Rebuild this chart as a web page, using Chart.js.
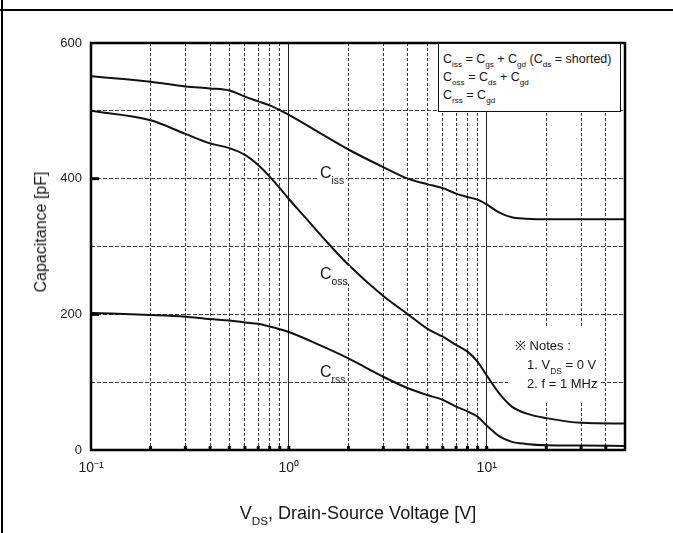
<!DOCTYPE html>
<html>
<head>
<meta charset="utf-8">
<script src="https://cdn.jsdelivr.net/npm/chart.js@4.4.1/dist/chart.umd.min.js"></script>
<style>
html,body{margin:0;padding:0;background:#fff;}
#wrap{position:relative;width:673px;height:533px;overflow:hidden;background:#fff;
  font-family:"Liberation Sans",Arial,Helvetica,sans-serif;color:#161616;}
#c{position:absolute;left:0;top:0;}
.t{position:absolute;white-space:nowrap;line-height:1;}
.t sub{font-size:0.65em;position:relative;top:0.55em;vertical-align:baseline;line-height:0;}
#frameTop{position:absolute;left:0;top:9px;width:673px;height:2px;background:#000;}
#frameLeft{position:absolute;left:1px;top:0;width:2px;height:533px;background:#000;}
#xtitle{left:358px;top:504px;font-size:18px;transform:translateX(-50%);}
#ytitle{left:41px;top:232px;font-size:16px;transform:translate(-50%,-50%) rotate(-90deg);}
#formula{position:absolute;left:438px;top:43px;width:183px;height:69px;background:#fff;
  border:1.5px solid #111;box-sizing:border-box;}
#formula .t{font-size:12.5px;left:4px;}
.lbl{font-size:16px;background:#fff;padding:0 2px 2px 1px;}
.note{font-size:13px;}
</style>
</head>
<body>
<div id="wrap">
  <canvas id="c" width="673" height="533"></canvas>
  <div id="frameTop"></div>
  <div id="frameLeft"></div>
  <div id="formula">
    <div class="t" style="top:9px">C<sub>iss</sub> = C<sub>gs</sub> + C<sub>gd</sub> (C<sub>ds</sub> = shorted)</div>
    <div class="t" style="top:27px">C<sub>oss</sub> = C<sub>ds</sub> + C<sub>gd</sub></div>
    <div class="t" style="top:45px">C<sub>rss</sub> = C<sub>gd</sub></div>
  </div>
  <div class="t lbl" style="left:319px;top:165px">C<sub>iss</sub></div>
  <div class="t lbl" style="left:319px;top:266px">C<sub>oss</sub></div>
  <div class="t lbl" style="left:319px;top:364px">C<sub>rss</sub></div>
  <div class="t note" style="left:515px;top:339px">※ Notes :</div>
  <div class="t note" style="left:527px;top:358px">1. V<sub>DS</sub> = 0 V</div>
  <div class="t note" style="left:527px;top:377px">2. f = 1 MHz</div>
  <div class="t" id="xtitle">V<sub>DS</sub>, Drain-Source Voltage [V]</div>
  <div class="t" id="ytitle">Capacitance [pF]</div>
</div>
<script>
// ---- data ----
const vdsCiss = [0.1, 0.2, 0.3, 0.4, 0.5, 0.6, 0.7, 0.8, 0.9, 1, 2, 3, 4, 5, 6, 7, 8, 9, 10, 11.6, 13.4, 15.8, 20, 30, 50];
const ciss    = [551, 543, 536, 533, 530, 521, 514, 508, 501, 494, 443, 417, 400, 392, 386, 378, 373, 369, 362, 350, 343, 341, 340, 340, 340];

const vdsCoss = [0.1, 0.2, 0.3, 0.4, 0.5, 0.6, 0.7, 0.8, 0.9, 1, 1.2, 1.5, 2, 3, 4, 5, 6, 7, 8, 9, 10, 11.6, 13.4, 15.8, 20, 30, 50];
const coss    = [500, 486, 466, 452, 445, 435, 420, 403, 386, 370, 344, 312, 273, 227, 200, 179, 167, 155, 145, 130, 110, 83, 64, 54, 47, 40, 39];

const vdsCrss = [0.1, 0.2, 0.3, 0.4, 0.5, 0.6, 0.7, 0.8, 0.9, 1, 1.5, 2, 3, 4, 5, 6, 7, 8, 9, 10, 11.6, 13.4, 15.8, 20, 30, 50];
const crss    = [202, 199, 196.5, 193, 191, 188, 186, 182, 178, 174, 152, 135, 108, 91, 81, 74, 64, 57, 49, 36, 20, 12, 9, 7, 6.5, 6];

const xTickValues  = [0.1, 0.2, 0.3, 0.4, 0.5, 0.6, 0.7, 0.8, 0.9, 1, 2, 3, 4, 5, 6, 7, 8, 9, 10, 20, 30, 40, 50];
const xMajorTicks  = [0.1, 1, 10];
const xTickLabels  = ['10\u207B\u00B9', '10\u2070', '10\u00B9'];
const yTickValues  = [0, 100, 200, 300, 400, 500, 600];
const yLabelTicks  = [0, 200, 400, 600];
const seriesNames  = ['Ciss', 'Coss', 'Crss'];

// ---- chart ----
const FONT = '"Liberation Sans", Arial, Helvetica, sans-serif';
const near = (a, b) => Math.abs(a - b) < 1e-9 * Math.max(1, Math.abs(b));
const majorIndex = v => xMajorTicks.findIndex(m => near(v, m));
const pts = (xs, ys) => xs.map((x, i) => ({x: x, y: ys[i]}));

const notesBox = {
  id: 'notesBox',
  beforeDatasetsDraw(chart) {
    const ctx = chart.ctx;
    ctx.save();
    ctx.fillStyle = '#fff';
    ctx.fillRect(508, 328, 92, 73);
    ctx.restore();
  }
};

const framePlugin = {
  id: 'frame',
  afterDatasetsDraw(chart) {
    const {ctx, chartArea: a, scales} = chart;
    ctx.save();
    ctx.strokeStyle = '#000';
    ctx.lineWidth = 3;
    yLabelTicks.forEach(v => {
      if (v <= 0 || v >= 600) return;
      const y = scales.y.getPixelForValue(v);
      ctx.beginPath(); ctx.moveTo(a.left, y); ctx.lineTo(a.left + 8, y); ctx.stroke();
    });
    xTickValues.forEach(v => {
      const x = scales.x.getPixelForValue(v);
      if (x <= a.left + 1 || x >= a.right - 1) return;
      ctx.beginPath(); ctx.moveTo(x, a.bottom); ctx.lineTo(x, a.bottom - 4); ctx.stroke();
    });
    ctx.lineWidth = 2.5;
    ctx.strokeRect(a.left, a.top, a.right - a.left, a.bottom - a.top);
    ctx.restore();
  }
};

new Chart(document.getElementById('c'), {
  type: 'line',
  data: {
    datasets: [
      {label: seriesNames[0], data: pts(vdsCiss, ciss)},
      {label: seriesNames[1], data: pts(vdsCoss, coss)},
      {label: seriesNames[2], data: pts(vdsCrss, crss)}
    ]
  },
  options: {
    responsive: false,
    animation: false,
    devicePixelRatio: 1,
    parsing: false,
    layout: {padding: {left: 0, right: 48, top: 43, bottom: 0}},
    plugins: {legend: {display: false}, tooltip: {enabled: false}},
    elements: {
      point: {radius: 0},
      line: {borderWidth: 2, borderColor: '#111', cubicInterpolationMode: 'monotone', fill: false}
    },
    scales: {
      x: {
        type: 'logarithmic', min: 0.1, max: 50,
        afterBuildTicks: s => { s.ticks = xTickValues.map(v => ({value: v, major: majorIndex(v) >= 0})); },
        afterFit: s => { s.height = 83; },
        ticks: {
          autoSkip: false, maxRotation: 0, minRotation: 0, padding: 10, color: '#1a1a1a',
          font: {size: 14, family: FONT},
          callback: v => { const i = majorIndex(v); return i >= 0 ? xTickLabels[i] : ''; }
        },
        grid: {
          drawTicks: false,
          lineWidth: 1,
          color: c => (c.tick && majorIndex(c.tick.value) >= 0) ? '#222' : '#3a3a3a'
        },
        border: {
          display: false,
          dash: c => (c.tick && majorIndex(c.tick.value) >= 0) ? [] : [3, 2]
        }
      },
      y: {
        type: 'linear', min: 0, max: 600,
        afterBuildTicks: s => { s.ticks = yTickValues.map(v => ({value: v})); },
        afterFit: s => { s.width = 91; },
        ticks: {
          padding: 9, color: '#1a1a1a',
          font: {size: 13, family: FONT},
          callback: v => yLabelTicks.includes(v) ? String(v) : ''
        },
        grid: {drawTicks: false, lineWidth: 1, color: '#3a3a3a'},
        border: {display: false, dash: [4, 2]}
      }
    }
  },
  plugins: [notesBox, framePlugin]
});
</script>
</body>
</html>
